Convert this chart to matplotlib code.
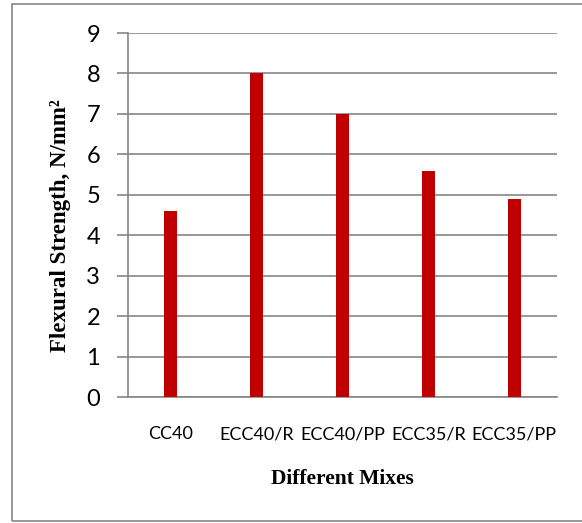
import numpy as np
import matplotlib.pyplot as plt

# flexural strength of each mix
mixes = ["CC40", "ECC40/R", "ECC40/PP", "ECC35/R", "ECC35/PP"]
strength = [4.6, 8.0, 7.0, 5.6, 4.9]
yticks = [0, 1, 2, 3, 4, 5, 6, 7, 8, 9]

fig = plt.figure(figsize=(5.82, 5.23), dpi=100)
ax = fig.add_axes([128/582, 1-397/523, (557-128)/582, (397-33)/523])

x = np.arange(len(mixes))
ax.bar(x, strength, width=0.15, color="#C00000", zorder=3)

ax.set_xlim(-0.5, len(mixes)-0.5)
ax.set_ylim(0, 9)
ax.set_yticks(yticks)
ax.set_xticks(x)
ax.set_xticklabels(mixes, fontsize=13, family="Lato")
ax.set_yticklabels([str(t) for t in yticks], fontsize=17, family="Lato")
ax.grid(axis="y", color="#868686", linewidth=1.2, zorder=0)
ax.tick_params(axis="y", length=8, width=1.2, color="#868686", pad=12)
ax.tick_params(axis="x", length=0, pad=21)

for s in ["top", "right"]:
    ax.spines[s].set_visible(False)
ax.spines["left"].set_color("#868686")
ax.spines["bottom"].set_color("#868686")
ax.spines["left"].set_linewidth(1.2)
ax.spines["bottom"].set_linewidth(1.2)

xl = ax.set_xlabel("Different Mixes", family="Liberation Serif", fontweight="bold",
                   fontsize=15.5)
xl.set_va("center")
ax.xaxis.set_label_coords(0.499, -0.225)
yl = ax.set_ylabel("Flexural Strength, N/mm²", family="Liberation Serif",
                   fontweight="bold", fontsize=16.5)
yl.set_va("center")
ax.yaxis.set_label_coords(-0.1585, 0.47)

# outer chart frame
fig.patches.append(plt.Rectangle((12/582, 1-521/523), 600/582, 517/523,
                                 transform=fig.transFigure, fill=False,
                                 edgecolor="#868686", linewidth=1.2))

fig.savefig("out.png", dpi=100)
